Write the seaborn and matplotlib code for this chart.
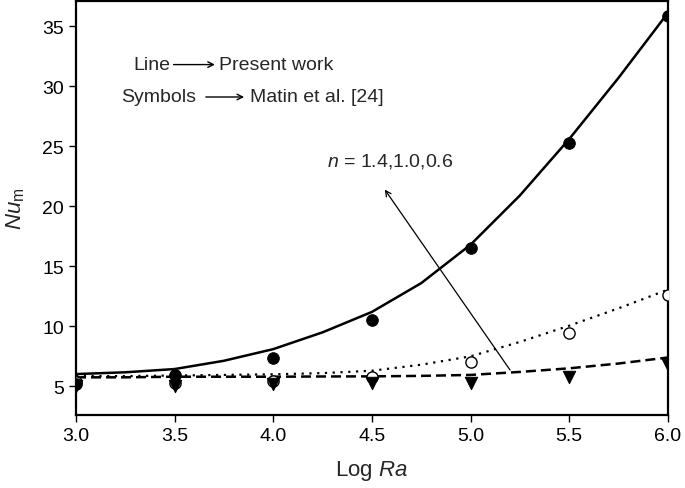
import numpy as np
import pandas as pd
import matplotlib
matplotlib.use("Agg")
import matplotlib.pyplot as plt
import seaborn as sns

# present work (lines) at 0.25 steps of Log Ra
log_ra_line = [3.0, 3.25, 3.5, 3.75, 4.0, 4.25, 4.5, 4.75, 5.0, 5.25, 5.5, 5.75, 6.0]
nu_line_14 = [6.02, 6.17, 6.44, 7.13, 8.1, 9.5, 11.2, 13.6, 16.8, 20.9, 25.6, 30.7, 36.1]
nu_line_10 = [5.85, 5.85, 5.9, 5.95, 6.0, 6.1, 6.3, 6.8, 7.5, 8.7, 10.05, 11.5, 13.05]
nu_line_06 = [5.75, 5.75, 5.8, 5.8, 5.8, 5.82, 5.83, 5.87, 5.95, 6.2, 6.5, 6.9, 7.4]

# Matin et al. [24] (symbols)
log_ra_pts = [3.0, 3.5, 4.0, 4.5, 5.0, 5.5, 6.0]
nu_pts_14 = [5.2, 5.95, 7.36, 10.55, 16.5, 25.27, 35.85]
nu_pts_10 = [5.4, 5.3, 5.47, 5.75, 7.0, 9.42, 12.6]
nu_pts_06 = [5.0, 5.05, 5.2, 5.25, 5.25, 5.8, 6.78]

x_ticks = [3.0, 3.5, 4.0, 4.5, 5.0, 5.5, 6.0]
y_ticks = [5, 10, 15, 20, 25, 30, 35]

sns.set_style("ticks")
plt.rcParams['font.family'] = ['Liberation Sans', 'DejaVu Sans']
plt.rcParams['mathtext.fontset'] = 'custom'
plt.rcParams['mathtext.rm'] = 'Liberation Sans'
plt.rcParams['mathtext.it'] = 'Liberation Sans:italic'

lines = pd.DataFrame({'x': log_ra_line, 'n14': nu_line_14, 'n10': nu_line_10, 'n06': nu_line_06})
pts = pd.DataFrame({'x': log_ra_pts, 'n14': nu_pts_14, 'n10': nu_pts_10, 'n06': nu_pts_06})

fig = plt.figure(figsize=(6.85, 4.89), dpi=100)
ax = fig.add_axes([0.111, 0.149, 0.864, 0.847])

sns.lineplot(data=lines, x='x', y='n14', ax=ax, color='black', lw=1.8)
sns.lineplot(data=lines, x='x', y='n10', ax=ax, color='black', lw=1.6)
ax.lines[-1].set_linestyle((0, (1, 2.5)))
sns.lineplot(data=lines, x='x', y='n06', ax=ax, color='black', lw=1.8)
ax.lines[-1].set_linestyle((0, (4, 2)))

sns.scatterplot(data=pts, x='x', y='n10', ax=ax, marker='o', s=65, facecolor='white',
                edgecolor='black', linewidth=1.0, zorder=3)
sns.scatterplot(data=pts, x='x', y='n06', ax=ax, marker='v', s=80, color='black',
                edgecolor='black', zorder=4)
sns.scatterplot(data=pts, x='x', y='n14', ax=ax, marker='o', s=70, color='black',
                edgecolor='black', zorder=5)

ax.set_xlim(3.0, 6.0)
ax.set_ylim(2.6, 37.1)
ax.set_xticks(x_ticks)
ax.set_xticklabels([f'{v:.1f}' for v in x_ticks])
ax.set_yticks(y_ticks)
ax.tick_params(labelsize=14, length=5, width=1.0, color='black', labelcolor='black')
for sp in ax.spines.values():
    sp.set_linewidth(1.6)
    sp.set_color('black')
    sp.set_visible(True)

ax.set_xlabel(r'Log $\mathit{Ra}$', fontsize=16, labelpad=10)
ax.set_ylabel(r'$\mathit{Nu}_{\mathrm{m}}$', fontsize=16)
ax.yaxis.set_label_coords(-0.083, 0.5)

# legend-like notes
ax.text(3.289, 31.8, 'Line', fontsize=14, va='center', ha='left')
ax.annotate('', xy=(3.718, 31.8), xytext=(3.48, 31.8),
            arrowprops=dict(arrowstyle='->', lw=1.0, color='black'))
ax.text(3.725, 31.8, 'Present work', fontsize=14, va='center', ha='left')
ax.text(3.228, 29.1, 'Symbols', fontsize=14, va='center', ha='left')
ax.annotate('', xy=(3.866, 29.1), xytext=(3.644, 29.1),
            arrowprops=dict(arrowstyle='->', lw=1.0, color='black'))
ax.text(3.88, 29.1, 'Matin et al. [24]', fontsize=14, va='center', ha='left')

ax.text(4.27, 23.8, r'$\mathit{n}$ = 1.4,1.0,0.6', fontsize=14, va='center', ha='left')
ax.annotate('', xy=(4.557, 21.58), xytext=(5.208, 6.17),
            arrowprops=dict(arrowstyle='->', lw=0.9, color='black'))

fig.savefig('out.png', dpi=100)
